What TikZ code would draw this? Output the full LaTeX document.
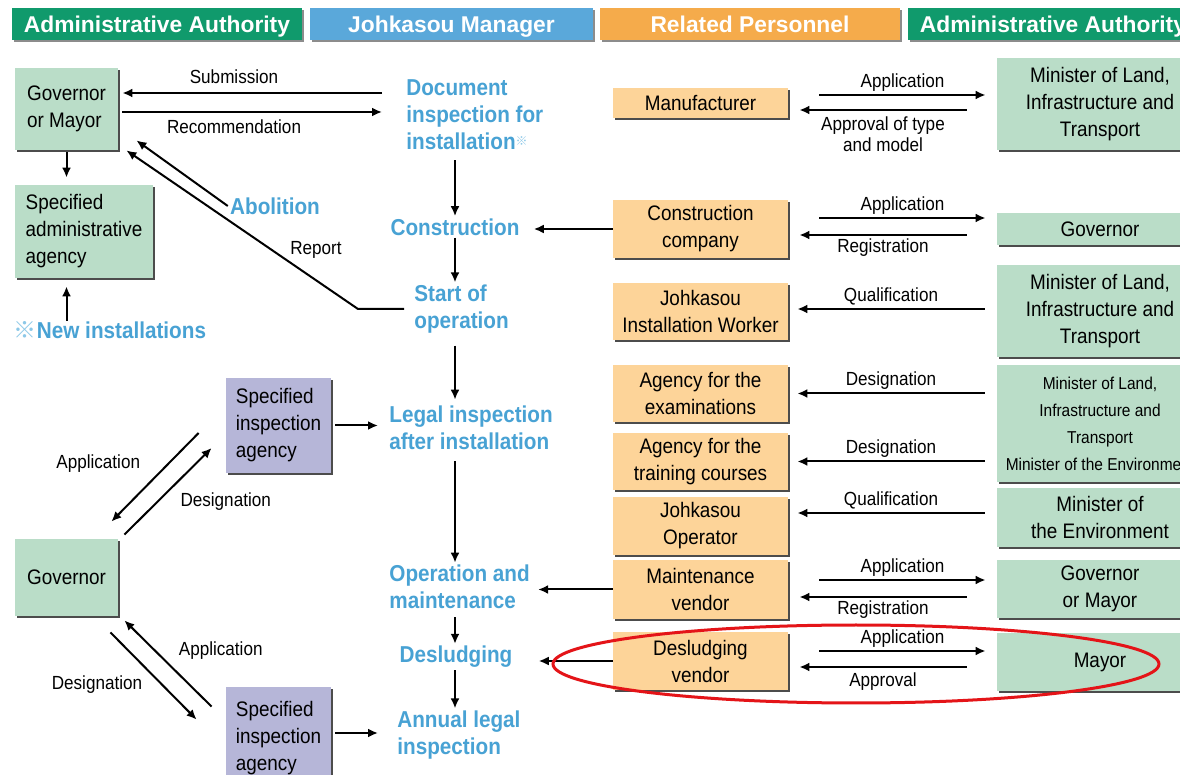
\documentclass[tikz,border=0pt]{standalone}
\usepackage{fontspec}
\setmainfont{Liberation Sans}[FakeStretch=0.9]
\newfontfamily\headfont{Liberation Sans}
\newfontfamily\markfont{Noto Sans CJK JP}
\usetikzlibrary{arrows.meta,shadows,calc}

\definecolor{hgreen}{RGB}{16,154,108}
\definecolor{hblue}{RGB}{90,168,218}
\definecolor{horange}{RGB}{245,171,75}
\definecolor{boxgreen}{RGB}{186,221,200}
\definecolor{boxorange}{RGB}{253,212,153}
\definecolor{boxpurple}{RGB}{182,182,216}
\definecolor{stageblue}{RGB}{72,162,212}
\definecolor{markblue}{RGB}{140,200,232}
\definecolor{ringred}{RGB}{228,20,24}
\newcommand{\refmark}{{\markfont\color{markblue}※}}

\begin{document}
\begin{tikzpicture}[x=0.5pt,y=-0.5pt,
    arr/.style={-{Latex[length=5pt,width=4.5pt]},line width=1pt},
    lbl/.style={font=\fontsize{9.5}{10.5}\selectfont,inner sep=1.5pt},
    stage/.style={text=stageblue,font=\bfseries\fontsize{11.5}{13.5}\selectfont,align=left,inner sep=1pt},
    box/.style={inner sep=2pt,font=\fontsize{10.5}{13.5}\selectfont,align=center,
      drop shadow={shadow xshift=1pt,shadow yshift=-1pt,fill=black!70,opacity=1}},
    abox/.style={box,fill=boxgreen},
    pbox/.style={box,fill=boxorange,minimum width=87.5pt},
    ibox/.style={box,fill=boxpurple,align=left,minimum width=52.5pt},
    rbox/.style={abox,minimum width=103pt},
    head/.style={fill=#1,text=white,font=\headfont\bfseries\fontsize{11.4}{12}\selectfont,
      minimum height=16pt,inner sep=0pt,text height=8.2pt,text depth=0pt,
      drop shadow={shadow xshift=0.8pt,shadow yshift=-0.8pt,fill=black!45,opacity=1}}]
  \useasboundingbox (0,0) rectangle (1180,775);
  \fill[white] (0,0) rectangle (1180,775);
  \clip (0,0) rectangle (1180,775);

  % column headers
  \node[head=hgreen,minimum width=145pt] (hadm) at (157,24) {Administrative Authority};
  \node[head=hblue,minimum width=141.5pt] (hmgr) at (451.5,24) {Johkasou Manager};
  \node[head=horange,minimum width=150pt] (hpers) at (750,24) {Related Personnel};
  \node[head=hgreen,minimum width=145pt] (hadmb) at (1053,24) {Administrative Authority};

  % left authorities
  \node[abox,align=left,minimum width=51.5pt,minimum height=41pt] (gov1) at (66.5,109) {Governor\\or Mayor};
  \node[abox,align=left,minimum width=69pt,minimum height=46.5pt] (sadm) at (84,231.5) {Specified\\administrative\\agency};
  \node[stage] (newi) at (110,330) {\refmark New installations};
  \node[stage] (abol) at (275,206) {Abolition};
  \node[ibox,minimum height=47.5pt] (sia1) at (278.5,425.5) {Specified\\inspection\\agency};
  \node[abox,minimum width=51.5pt,minimum height=38.5pt] (gov2) at (66.5,577.5) {Governor};
  \node[ibox,minimum height=51.5pt] (sia2) at (278.5,738.5) {Specified\\inspection\\agency};

  % manager stages
  \node[stage,anchor=west] (doc) at (404,115) {Document\\inspection for\\installation\raisebox{2pt}{\fontsize{6}{6}\selectfont\refmark}};
  \node[stage] (cons) at (455,227) {Construction};
  \node[stage,anchor=west] (start) at (412,309) {Start of\\operation};
  \node[stage,anchor=west] (legal) at (387,428) {Legal inspection\\after installation};
  \node[stage,anchor=west] (oper) at (387,587) {Operation and\\maintenance};
  \node[stage] (desl) at (456,657) {Desludging};
  \node[stage,anchor=west] (annual) at (395,735) {Annual legal\\inspection};

  % related personnel
  \node[pbox,minimum height=15pt] (manu) at (700.5,103) {Manufacturer};
  \node[pbox,minimum height=29pt] (ccomp) at (700.5,229) {Construction\\company};
  \node[pbox,minimum height=28.5pt] (iwork) at (700.5,311.5) {Johkasou\\Installation Worker};
  \node[pbox,minimum height=28.5pt] (aexam) at (700.5,393.5) {Agency for the\\examinations};
  \node[pbox,minimum height=28.5pt] (atrain) at (700.5,461.5) {Agency for the\\training courses};
  \node[pbox,minimum height=29pt] (jop) at (700.5,526) {Johkasou\\Operator};
  \node[pbox,minimum height=29.5pt] (mvend) at (700.5,589.5) {Maintenance\\vendor};
  \node[pbox,minimum height=29pt] (dvend) at (700.5,661) {Desludging\\vendor};

  % right authorities
  \node[rbox,minimum height=46pt] (min1) at (1100,104) {Minister of Land,\\Infrastructure and\\Transport};
  \node[rbox,minimum height=16pt] (govr) at (1100,229) {Governor};
  \node[rbox,minimum height=46pt] (min2) at (1100,311) {Minister of Land,\\Infrastructure and\\Transport};
  \node[rbox,minimum height=58.5pt,font=\fontsize{8.6}{13.5}\selectfont] (min3) at (1100,423.5) {Minister of Land,\\Infrastructure and\\Transport\\Minister of the Environment};
  \node[rbox,minimum height=29.5pt] (moe) at (1100,517.5) {Minister of\\the Environment};
  \node[rbox,minimum height=29pt] (gom) at (1100,589) {Governor\\or Mayor};
  \node[rbox,minimum height=29pt] (mayor) at (1100,662) {Mayor};

  % stage flow
  \draw[arr] ($(doc.south -| cons.north)+(0,-4pt)$) -- (cons.north);
  \draw[arr] (cons.south) -- (start.north -| cons.south);
  \draw[arr] ($(start.south -| cons)+(0,-5pt)$) -- ($(legal.north -| cons)+(0,2pt)$);
  \draw[arr] ($(legal.south -| cons)+(0,-4.5pt)$) -- (oper.north -| cons);
  \draw[arr] ($(oper.south -| cons)+(0,-3pt)$) -- (desl.north -| cons);
  \draw[arr] (desl.south -| cons) -- (annual.north -| cons);

  % upper left
  \draw[arr] ($(doc.west |- gov1.east)+(-11pt,8pt)$) -- ($(gov1.east)+(2pt,8pt)$) node[pos=0.57,above=2.5pt,lbl]{Submission};
  \draw[arr] ($(gov1.east)+(2pt,-1.5pt)$) -- ($(doc.west |- gov1.east)+(-11pt,-1.5pt)$) node[pos=0.43,below=2pt,lbl]{Recommendation};
  \draw[arr] ($(gov1.south)+(0,-1pt)$) -- ($(gov1.south |- sadm.north)+(0,3.5pt)$);
  \draw[arr] ($(newi.north -| gov1.south)+(0,-1pt)$) -- ($(sadm.south -| gov1.south)+(0,-4pt)$);
  \draw[arr] (abol.west) -- ($(gov1.south east)+(9pt,5pt)$);
  \draw[arr] ($(start.west)+(-4pt,0)$) -- ++(-23pt,0)
    -- node[pos=0.37,anchor=west,xshift=7pt,lbl]{Report} ($(gov1.south east)+(4pt,0)$);

  % lower left
  \draw[arr] ($(sia1.west)+(-13.5pt,-3.75pt)$) -- ($(gov2.north east)+(-3.5pt,8.5pt)$) node[pos=0.35,left=12pt,lbl]{Application};
  \draw[arr] ($(gov2.north east)+(3pt,2pt)$) -- ($(sia1.west)+(-7pt,-11.25pt)$) node[pos=0.38,right=9.5pt,lbl]{Designation};
  \draw[arr] ($(gov2.south east)+(-4pt,-8pt)$) -- ($(sia2.north west)+(-14.5pt,-16.5pt)$) node[pos=0.6,left=8pt,lbl]{Designation};
  \draw[arr] ($(sia2.north west)+(-7pt,-10pt)$) -- ($(gov2.south east)+(3pt,-2pt)$) node[pos=0.65,right=10pt,lbl]{Application};
  \draw[arr] ($(sia1.east)+(2pt,0)$) -- ($(sia1.east -| legal.west)+(-4.5pt,0)$);
  \draw[arr] ($(sia2.east)+(2pt,2.75pt)$) -- ($(sia2.east -| annual.west)+(-8.5pt,2.75pt)$);

  % personnel to stages
  \draw[arr] (ccomp.west) -- ($(ccomp.west -| cons.east)+(6pt,0)$);
  \draw[arr] (mvend.west) -- ($(mvend.west -| oper.east)+(3pt,0)$);
  \draw[arr] (dvend.west) -- ($(dvend.west -| desl.east)+(12pt,0)$);

  % personnel and authorities
  \draw[arr] ($(manu.east)+(15.5pt,4pt)$) -- ($(manu.east -| min1.west)+(-5.5pt,4pt)$) node[midway,above,lbl]{Application};
  \draw[arr] ($(manu.east -| min1.west)+(-15pt,-3.5pt)$) -- ($(manu.east)+(5.5pt,-3.5pt)$) node[midway,below=1.5pt,lbl,align=center]{Approval of type\\and model};
  \draw[arr] ($(ccomp.east)+(15.5pt,5.5pt)$) -- ($(ccomp.east -| govr.west)+(-5.5pt,5.5pt)$) node[midway,above,lbl]{Application};
  \draw[arr] ($(ccomp.east -| govr.west)+(-15pt,-3pt)$) -- ($(ccomp.east)+(5.5pt,-3pt)$) node[midway,below,lbl]{Registration};
  \draw[arr] ($(iwork.east -| min2.west)+(-6pt,1.25pt)$) -- ($(iwork.east)+(4.5pt,1.25pt)$) node[midway,above,lbl]{Qualification};
  \draw[arr] ($(aexam.east -| min3.west)+(-6pt,0)$) -- ($(aexam.east)+(4.5pt,0)$) node[midway,above,lbl]{Designation};
  \draw[arr] ($(atrain.east -| min3.west)+(-6pt,0)$) -- ($(atrain.east)+(4.5pt,0)$) node[midway,above,lbl]{Designation};
  \draw[arr] ($(jop.east -| moe.west)+(-6pt,6.5pt)$) -- ($(jop.east)+(4.5pt,6.5pt)$) node[midway,above,lbl]{Qualification};
  \draw[arr] ($(mvend.east)+(15.5pt,4.75pt)$) -- ($(mvend.east -| gom.west)+(-5.5pt,4.75pt)$) node[midway,above,lbl]{Application};
  \draw[arr] ($(mvend.east -| gom.west)+(-15pt,-3.75pt)$) -- ($(mvend.east)+(5.5pt,-3.75pt)$) node[midway,below,lbl]{Registration};
  \draw[arr] ($(dvend.east)+(15.5pt,5pt)$) -- ($(dvend.east -| mayor.west)+(-5.5pt,5pt)$) node[midway,above,lbl]{Application};
  \draw[arr] ($(dvend.east -| mayor.west)+(-15pt,-3pt)$) -- ($(dvend.east)+(5.5pt,-3pt)$) node[midway,below=1pt,lbl]{Approval};

  % highlight
  \draw[ringred,line width=1.5pt] (856,664) ellipse [x radius=151.5pt,y radius=19.5pt];
\end{tikzpicture}
\end{document}
